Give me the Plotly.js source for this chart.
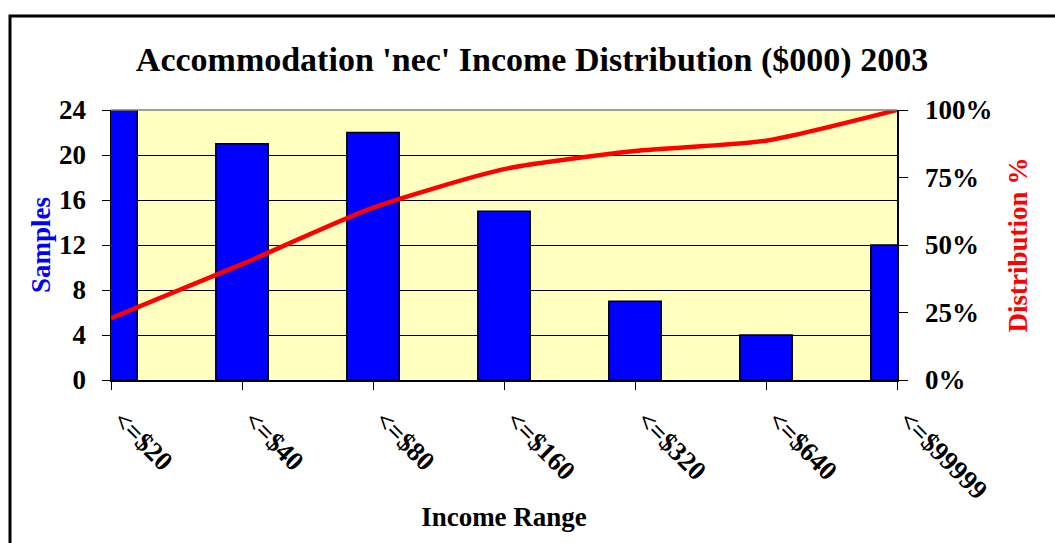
<!DOCTYPE html>
<html>
<head>
<meta charset="utf-8">
<script src="https://cdn.plot.ly/plotly-3.0.1.min.js"></script>
<style>
  html, body { margin: 0; padding: 0; background: #fff; }
  #chart { width: 1055px; height: 543px; }
</style>
</head>
<body>
<div id="chart"></div>
<script>
// Data
const categories = ['<=$20', '<=$40', '<=$80', '<=$160', '<=$320', '<=$640', '<=$99999'];
const samples = [24, 21, 22, 15, 7, 4, 12];
const distributionPct = [22.9, 42.9, 63.8, 78.1, 84.8, 88.6, 100];
const leftTicks = [0, 4, 8, 12, 16, 20, 24];
const rightTicks = [0, 25, 50, 75, 100];
const rightTickLabels = ['0%', '25%', '50%', '75%', '100%'];

const W = 1055, H = 543;
const M = { l: 111, r: 158, t: 110, b: 163 };
const pw = W - M.l - M.r, ph = H - M.t - M.b;
const px = x => (x - M.l) / pw;
const py = y => (H - M.b - y) / ph;

const FONT = 'Liberation Serif, Times New Roman, serif';
const tickFont = { family: FONT, size: 27, color: '#000', weight: 'bold' };

const traces = [
  {
    type: 'bar',
    x: categories,
    y: samples,
    width: 0.4,
    marker: { color: '#0000FF', line: { color: '#000', width: 1.5 } },
    yaxis: 'y',
    hoverinfo: 'x+y'
  },
  {
    type: 'scatter',
    mode: 'lines',
    x: categories,
    y: distributionPct,
    line: { color: '#FF0000', width: 4.5, shape: 'spline', smoothing: 0.6 },
    yaxis: 'y2',
    cliponaxis: false
  }
];

const layout = {
  width: W, height: H,
  margin: M,
  paper_bgcolor: '#FFFFFF',
  plot_bgcolor: '#FFFFC0',
  showlegend: false,
  title: {
    text: "Accommodation 'nec' Income Distribution ($000) 2003",
    font: { family: FONT, size: 34, color: '#000', weight: 'bold' },
    x: 532 / W, xref: 'container', xanchor: 'center',
    y: 1 - 59 / H, yref: 'container', yanchor: 'middle'
  },
  xaxis: {
    type: 'category',
    range: [0, 6],
    showgrid: false,
    showline: true, linecolor: '#000', linewidth: 1.5,
    ticks: 'outside', ticklen: 8, tickcolor: '#000', tickwidth: 1,
    tickangle: 45,
    tickfont: tickFont,
    ticklabelstandoff: 4,
    ticklabelshift: 10,
    title: { text: 'Income Range', font: { family: FONT, size: 27, color: '#000', weight: 'bold' }, standoff: 3 },
    fixedrange: true, automargin: false
  },
  yaxis: {
    range: [0, 24],
    tickvals: leftTicks,
    showgrid: true, gridcolor: '#000', gridwidth: 1,
    zeroline: false,
    showline: true, linecolor: '#000', linewidth: 1.5,
    ticks: 'outside', ticklen: 8, tickcolor: '#000', tickwidth: 1,
    tickfont: tickFont,
    ticklabelstandoff: 10,
    title: { text: 'Samples', font: { family: FONT, size: 27, color: '#0000FF', weight: 'bold' }, standoff: 0 },
    fixedrange: true, automargin: false
  },
  yaxis2: {
    overlaying: 'y', side: 'right',
    range: [0, 100],
    tickvals: rightTicks, ticktext: rightTickLabels,
    showgrid: false, zeroline: false,
    showline: true, linecolor: '#000', linewidth: 1.5,
    ticks: 'outside', ticklen: 9, tickcolor: '#000', tickwidth: 1,
    tickfont: tickFont,
    ticklabelstandoff: 12,
    title: { text: 'Distribution %', font: { family: FONT, size: 27, color: '#FF0000', weight: 'bold' }, standoff: 16 },
    fixedrange: true, automargin: false
  },
  shapes: [
    { type: 'line', xref: 'paper', yref: 'paper', x0: 0, x1: 1, y0: 1, y1: 1,
      line: { color: '#808080', width: 1.5 }, layer: 'above' },
    { type: 'rect', xref: 'paper', yref: 'paper',
      x0: px(10), x1: px(1060), y0: py(16), y1: py(560),
      line: { color: '#000', width: 3 }, fillcolor: 'rgba(0,0,0,0)', layer: 'above' }
  ]
};

Plotly.newPlot('chart', traces, layout, { staticPlot: true, displayModeBar: false });
</script>
</body>
</html>
